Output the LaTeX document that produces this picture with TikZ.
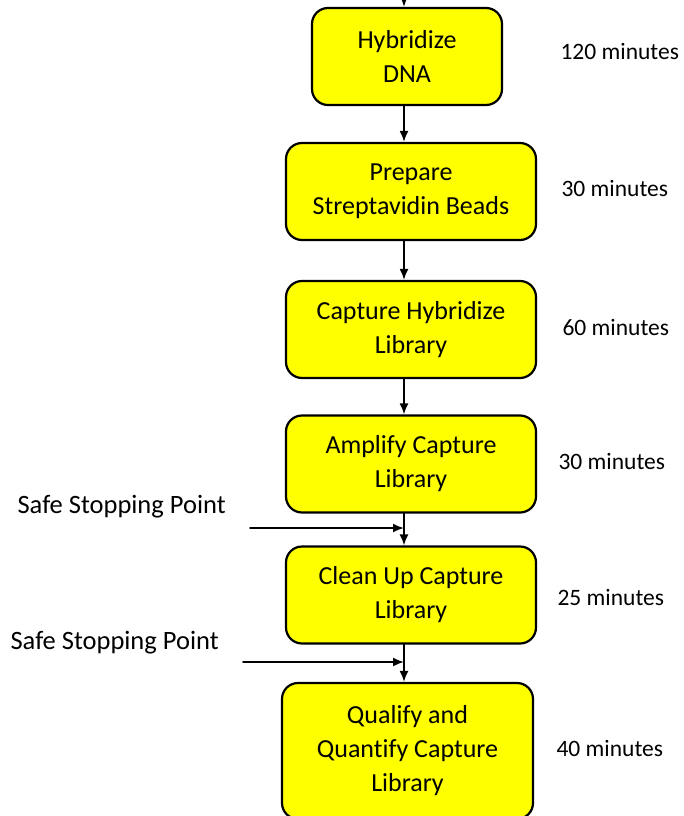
\documentclass[tikz,border=0pt]{standalone}
\usepackage{fontspec}
\setmainfont{Carlito}[Ligatures=NoCommon]
\usetikzlibrary{arrows.meta}
\definecolor{boxyellow}{RGB}{255,255,0}
\begin{document}
\begin{tikzpicture}[x=1pt,y=-1pt,line cap=round,line join=round,>={Latex[length=11pt,width=9pt]},
  stepbox/.style={draw,line width=2.2pt,fill=boxyellow,rounded corners=16pt,
    align=center,inner sep=0pt,minimum height=97pt,
    font=\fontsize{26}{34}\selectfont},
  timelbl/.style={anchor=west,font=\fontsize{23.5}{28}\selectfont},
  safelbl/.style={anchor=west,font=\fontsize{26.5}{30}\selectfont},
  flow/.style={line width=1.8pt,->}]
  \useasboundingbox (0,0) rectangle (684,816);
  % steps
  \node[stepbox,minimum width=190pt] (hyb) at (407,56.5) {Hybridize\\DNA};
  \node[stepbox,minimum width=250pt] (prep) at (411,191.5) {Prepare\\Streptavidin Beads};
  \node[stepbox,minimum width=250pt] (capt) at (411,329.5) {Capture Hybridize\\Library};
  \node[stepbox,minimum width=250pt] (ampl) at (411,464) {Amplify Capture\\Library};
  \node[stepbox,minimum width=250pt] (clean) at (411,595) {Clean Up Capture\\Library};
  \node[stepbox,minimum width=251pt,minimum height=136pt] (qual) at (407.5,751) {Qualify and\\Quantify Capture\\Library};
  % times
  \node[timelbl] (t1) at (557,52) {120 minutes};
  \node[timelbl] (t2) at (558,189) {30 minutes};
  \node[timelbl] (t3) at (559,327) {60 minutes};
  \node[timelbl] (t4) at (555,461) {30 minutes};
  \node[timelbl] (t5) at (554,597) {25 minutes};
  \node[timelbl] (t6) at (553,748) {40 minutes};
  % stopping points
  \node[safelbl] (stop1) at (14,507) {Safe Stopping Point};
  \node[safelbl] (stop2) at (7,643) {Safe Stopping Point};
  \coordinate (in) at (404,0);
  \coordinate (s1) at (250,528);
  \coordinate (s2) at (243,662);
  % connectors
  \draw[flow] (in) -- (in |- hyb.north);
  \draw[flow] (in |- hyb.south) -- (in |- prep.north);
  \draw[flow] (in |- prep.south) -- (in |- capt.north);
  \draw[flow] (in |- capt.south) -- (in |- ampl.north);
  \draw[flow] (in |- ampl.south) -- (in |- clean.north);
  \draw[flow] (in |- clean.south) -- (in |- qual.north);
  \draw[flow] (s1) -- (s1 -| in);
  \draw[flow] (s2) -- (s2 -| in);
\end{tikzpicture}
\end{document}
